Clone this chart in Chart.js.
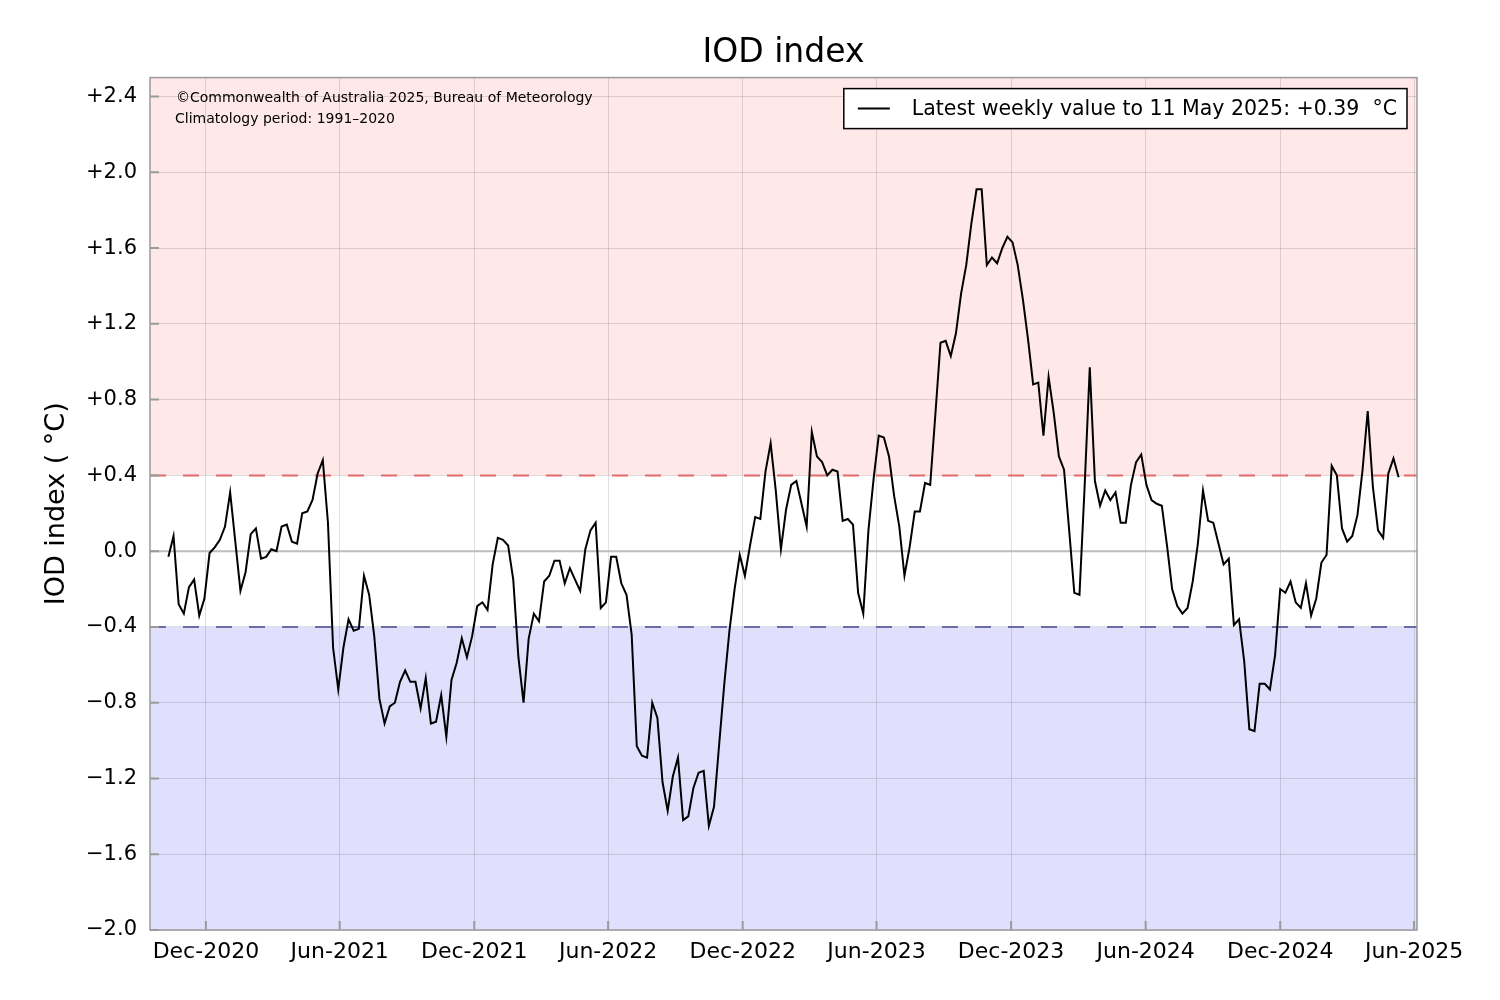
<!DOCTYPE html>
<html>
<head>
<meta charset="utf-8">
<title>IOD index</title>
<script src="https://cdn.jsdelivr.net/npm/chart.js@4/dist/chart.umd.min.js"></script>
<style>
    html, body { margin: 0; padding: 0; background: #fff; }
</style>
</head>
<body>
<canvas id="iod" width="1500" height="1000"></canvas>
<script>
'use strict';

// Weekly IOD index, first week ending 11 Oct 2020, last week ending 11 May 2025
var firstWeek = '2020-10-11';
var iodValues = [
    -0.03, 0.08, -0.28, -0.33, -0.19, -0.15, -0.34, -0.25, -0.01, 0.02,
    0.06, 0.13, 0.31, 0.05, -0.21, -0.11, 0.09, 0.12, -0.04, -0.03,
    0.01, 0.00, 0.13, 0.14, 0.05, 0.04, 0.20, 0.21, 0.27, 0.41,
    0.48, 0.15, -0.51, -0.73, -0.51, -0.36, -0.42, -0.41, -0.13, -0.23,
    -0.45, -0.78, -0.91, -0.82, -0.80, -0.69, -0.63, -0.69, -0.69, -0.83,
    -0.67, -0.91, -0.90, -0.76, -0.98, -0.68, -0.59, -0.46, -0.56, -0.45,
    -0.29, -0.27, -0.31, -0.07, 0.07, 0.06, 0.03, -0.15, -0.56, -0.80,
    -0.46, -0.33, -0.37, -0.16, -0.13, -0.05, -0.05, -0.17, -0.09, -0.15,
    -0.21, 0.01, 0.11, 0.15, -0.30, -0.27, -0.03, -0.03, -0.17, -0.23,
    -0.44, -1.03, -1.08, -1.09, -0.80, -0.88, -1.22, -1.37, -1.19, -1.09,
    -1.42, -1.40, -1.25, -1.17, -1.16, -1.45, -1.35, -1.02, -0.70, -0.42,
    -0.20, -0.02, -0.13, 0.03, 0.18, 0.17, 0.42, 0.57, 0.32, 0.01,
    0.22, 0.35, 0.37, 0.25, 0.13, 0.63, 0.50, 0.47, 0.40, 0.43,
    0.42, 0.16, 0.17, 0.14, -0.22, -0.33, 0.11, 0.38, 0.61, 0.60,
    0.50, 0.29, 0.13, -0.13, 0.02, 0.21, 0.21, 0.36, 0.35, 0.72,
    1.10, 1.11, 1.03, 1.15, 1.36, 1.51, 1.73, 1.91, 1.91, 1.51,
    1.55, 1.52, 1.60, 1.66, 1.63, 1.51, 1.33, 1.12, 0.88, 0.89,
    0.61, 0.92, 0.73, 0.50, 0.43, 0.11, -0.22, -0.23, 0.34, 0.97,
    0.37, 0.24, 0.32, 0.27, 0.31, 0.15, 0.15, 0.35, 0.47, 0.51,
    0.35, 0.27, 0.25, 0.24, 0.03, -0.20, -0.29, -0.33, -0.30, -0.16,
    0.04, 0.32, 0.16, 0.15, 0.04, -0.07, -0.04, -0.39, -0.36, -0.58,
    -0.94, -0.95, -0.70, -0.70, -0.73, -0.55, -0.20, -0.22, -0.16, -0.27,
    -0.30, -0.17, -0.34, -0.25, -0.06, -0.02, 0.45, 0.40, 0.12, 0.05,
    0.08, 0.19, 0.43, 0.74, 0.34, 0.11, 0.07, 0.41, 0.49, 0.39
];

var xTickDates = ['2020-12-01', '2021-06-01', '2021-12-01', '2022-06-01', '2022-12-01',
    '2023-06-01', '2023-12-01', '2024-06-01', '2024-12-01', '2025-06-01'];
var xTickLabels = ['Dec-2020', 'Jun-2021', 'Dec-2021', 'Jun-2022', 'Dec-2022',
    'Jun-2023', 'Dec-2023', 'Jun-2024', 'Dec-2024', 'Jun-2025'];
var yTickValues = [-2.0, -1.6, -1.2, -0.8, -0.4, 0.0, 0.4, 0.8, 1.2, 1.6, 2.0, 2.4];
var thresholds = [0.4, -0.4];

var legendText = 'Latest weekly value to 11 May 2025: +0.39  \u00b0C';
var noteLines = ['\u00a9Commonwealth of Australia 2025, Bureau of Meteorology',
    'Climatology period: 1991\u20132020'];

var FONT = 'DejaVu Sans';
var gridColor = 'rgba(0,0,0,0.12)';
var frameColor = '#9a9a9a';

function dayNum(s) {
    var p = s.split('-');
    return Date.UTC(+p[0], +p[1] - 1, +p[2]) / 86400000;
}

var points = iodValues.map(function (v, i) {
    return { x: dayNum(firstWeek) + 7 * i, y: v };
});
var xTickValues = xTickDates.map(dayNum);

function fmtY(v) {
    if (Math.abs(v) < 1e-9) return '0.0';
    return (v > 0 ? '+' : '\u2212') + Math.abs(v).toFixed(1);
}

// pink / blue event bands behind the grid
var bandsPlugin = {
    id: 'bands',
    beforeDraw: function (chart) {
        var ctx = chart.ctx, a = chart.chartArea, y = chart.scales.y;
        ctx.save();
        ctx.fillStyle = '#fff';
        ctx.fillRect(0, 0, chart.width, chart.height);
        ctx.fillStyle = 'rgb(254,232,232)';
        ctx.fillRect(a.left, a.top, a.right - a.left, y.getPixelForValue(thresholds[0]) - a.top);
        ctx.fillStyle = 'rgb(224,224,253)';
        var yb = y.getPixelForValue(thresholds[1]);
        ctx.fillRect(a.left, yb, a.right - a.left, a.bottom - yb);
        ctx.restore();
    }
};

// zero line and dashed thresholds
var refLinesPlugin = {
    id: 'refLines',
    beforeDatasetsDraw: function (chart) {
        var ctx = chart.ctx, a = chart.chartArea, y = chart.scales.y;
        function hline(v, color, dash) {
            var py = y.getPixelForValue(v);
            ctx.beginPath();
            ctx.strokeStyle = color;
            ctx.lineWidth = 2;
            ctx.setLineDash(dash);
            ctx.moveTo(a.left, py);
            ctx.lineTo(a.right, py);
            ctx.stroke();
        }
        ctx.save();
        hline(0, '#bdbdbd', []);
        hline(thresholds[0], '#e36b6b', [16, 17]);
        hline(thresholds[1], '#6c6ca8', [16, 17]);
        ctx.restore();
    }
};

// frame, inward ticks, note text and boxed legend
var framePlugin = {
    id: 'frame',
    afterDraw: function (chart) {
        var ctx = chart.ctx, a = chart.chartArea;
        var xs = chart.scales.x, ys = chart.scales.y;
        ctx.save();
        ctx.strokeStyle = frameColor;
        ctx.lineWidth = 1.5;
        ctx.setLineDash([]);
        ctx.strokeRect(a.left, a.top, a.right - a.left, a.bottom - a.top);

        ctx.lineWidth = 2;
        ctx.beginPath();
        xTickValues.forEach(function (v) {
            var px = xs.getPixelForValue(v);
            ctx.moveTo(px, a.bottom);
            ctx.lineTo(px, a.bottom - 9);
        });
        yTickValues.forEach(function (v) {
            var py = ys.getPixelForValue(v);
            ctx.moveTo(a.left, py);
            ctx.lineTo(a.left + 9, py);
        });
        ctx.stroke();

        ctx.fillStyle = '#000';
        ctx.font = '14px "' + FONT + '"';
        ctx.textBaseline = 'middle';
        ctx.textAlign = 'left';
        ctx.fillText(noteLines[0], a.left + 26, a.top + 21);
        ctx.fillText(noteLines[1], a.left + 25, a.top + 42);

        var ds = chart.data.datasets[0];
        ctx.font = '20.5px "' + FONT + '"';
        var tw = ctx.measureText(ds.label).width;
        var bw = tw + 14 + 32 + 22 + 10, bh = 40;
        var bx = a.right - 10 - bw, by = a.top + 11;
        ctx.fillStyle = '#fff';
        ctx.fillRect(bx, by, bw, bh);
        ctx.strokeStyle = '#000';
        ctx.lineWidth = 1.5;
        ctx.strokeRect(bx, by, bw, bh);
        ctx.beginPath();
        ctx.strokeStyle = ds.borderColor;
        ctx.lineWidth = 2;
        ctx.moveTo(bx + 14, by + bh / 2);
        ctx.lineTo(bx + 46, by + bh / 2);
        ctx.stroke();
        ctx.fillStyle = '#000';
        ctx.fillText(ds.label, bx + 68, by + bh / 2 + 1);
        ctx.restore();
    }
};

Chart.defaults.font.family = FONT;
Chart.defaults.color = '#000';

var chart = new Chart(document.getElementById('iod').getContext('2d'), {
    type: 'line',
    data: {
        datasets: [{
            label: legendText,
            data: points,
            borderColor: '#000',
            borderWidth: 2,
            pointRadius: 0,
            fill: false,
            tension: 0
        }]
    },
    options: {
        responsive: false,
        animation: false,
        devicePixelRatio: 1,
        layout: { padding: { left: 0, right: 83, top: 0, bottom: 0 } },
        plugins: {
            legend: { display: false },
            tooltip: { enabled: false },
            title: {
                display: true,
                text: 'IOD index',
                fullSize: false,
                color: '#000',
                font: { size: 33, weight: 'normal' },
                padding: { top: 34, bottom: 4 }
            }
        },
        scales: {
            x: {
                type: 'linear',
                min: points[0].x - 25,
                max: points[points.length - 1].x + 25,
                afterBuildTicks: function (scale) {
                    scale.ticks = xTickValues.map(function (v) { return { value: v }; });
                },
                afterFit: function (scale) { scale.height = 70; },
                ticks: {
                    callback: function (value, index) { return xTickLabels[index]; },
                    font: { size: 22 },
                    color: '#000',
                    padding: 9,
                    maxRotation: 0,
                    autoSkip: false
                },
                grid: { color: gridColor, lineWidth: 1, drawTicks: false },
                border: { display: false }
            },
            y: {
                type: 'linear',
                min: -2.0,
                max: 2.5,
                afterBuildTicks: function (scale) {
                    scale.ticks = yTickValues.map(function (v) { return { value: v }; });
                },
                afterFit: function (scale) { scale.width = 150; },
                ticks: {
                    callback: function (value) { return fmtY(value); },
                    font: { size: 21 },
                    color: '#000',
                    padding: 13
                },
                grid: { color: gridColor, lineWidth: 1, drawTicks: false },
                border: { display: false },
                title: {
                    display: true,
                    text: 'IOD index ( \u00b0C)',
                    color: '#000',
                    font: { size: 27 },
                    padding: { top: 41, bottom: 0 }
                }
            }
        }
    },
    plugins: [bandsPlugin, refLinesPlugin, framePlugin]
});
</script>
</body>
</html>
